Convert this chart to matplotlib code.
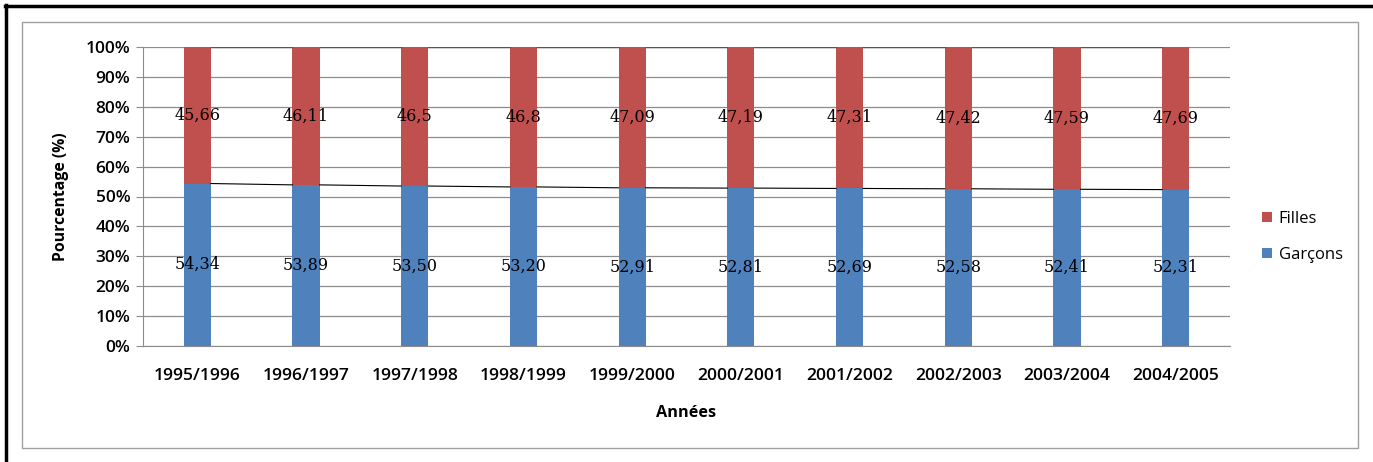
import matplotlib
matplotlib.use("Agg")
import matplotlib.pyplot as plt
from matplotlib.patches import Rectangle
from matplotlib.lines import Line2D
import numpy as np

annees = ["1995/1996", "1996/1997", "1997/1998", "1998/1999", "1999/2000",
          "2000/2001", "2001/2002", "2002/2003", "2003/2004", "2004/2005"]
garcons = [54.34, 53.89, 53.50, 53.20, 52.91, 52.81, 52.69, 52.58, 52.41, 52.31]
filles = [45.66, 46.11, 46.5, 46.8, 47.09, 47.19, 47.31, 47.42, 47.59, 47.69]
garcons_txt = ["54,34", "53,89", "53,50", "53,20", "52,91",
               "52,81", "52,69", "52,58", "52,41", "52,31"]
filles_txt = ["45,66", "46,11", "46,5", "46,8", "47,09",
              "47,19", "47,31", "47,42", "47,59", "47,69"]

BLUE = "#4F81BD"
RED = "#C0504D"
GRID = "#8C8C8C"

W, H = 1373, 462
fig = plt.figure(figsize=(W / 100, H / 100), dpi=100)

# page frame and chart area border
fig.add_artist(Line2D([6 / W, 6 / W], [0, 1 - 5 / H], transform=fig.transFigure,
                      color="black", lw=2.5))
fig.add_artist(Line2D([5 / W, 1], [1 - 6 / H, 1 - 6 / H], transform=fig.transFigure,
                      color="black", lw=2.5))
fig.add_artist(Rectangle((22 / W, 1 - 448 / H), (1358 - 22) / W, (448 - 22) / H,
                         transform=fig.transFigure, fill=False,
                         edgecolor="#A0A0A0", lw=1))

ax = fig.add_axes([143 / W, (H - 346) / H, (1230 - 143) / W, (346 - 47) / H])

x = np.arange(len(annees))
bw = 0.25
ax.bar(x, garcons, width=bw, color=BLUE, label="Garçons", zorder=3)
ax.bar(x, filles, width=bw, bottom=garcons, color=RED, label="Filles", zorder=3)

# series lines between stacked bars
tops = np.array(garcons) + np.array(filles)
for i in range(len(x) - 1):
    ax.plot([x[i] + bw / 2, x[i + 1] - bw / 2], [garcons[i], garcons[i + 1]],
            color="black", lw=0.8, zorder=4)
    ax.plot([x[i] + bw / 2, x[i + 1] - bw / 2], [tops[i], tops[i + 1]],
            color="#555555", lw=1.0, zorder=4)

lab_font = dict(family="DejaVu Serif", fontsize=11.5, color="black")
for i in range(len(x)):
    ax.text(x[i], garcons[i] / 2, garcons_txt[i], ha="center", va="center",
            zorder=5, **lab_font)
    ax.text(x[i], garcons[i] + filles[i] / 2, filles_txt[i], ha="center",
            va="center", zorder=5, **lab_font)

ax.set_xlim(-0.5, len(x) - 0.5)
ax.set_ylim(0, 100)
ax.set_yticks(np.arange(0, 101, 10))
ax.set_yticklabels([f"{v}%" for v in range(0, 101, 10)])
ax.set_xticks(x)
ax.set_xticklabels(annees)
ax.yaxis.grid(True, color=GRID, lw=0.9, zorder=0)
ax.set_axisbelow(True)

for s in ["top", "right"]:
    ax.spines[s].set_visible(False)
ax.spines["left"].set_color(GRID)
ax.spines["bottom"].set_color(GRID)
ax.tick_params(axis="y", length=5, color=GRID, labelsize=12.5, pad=4)
ax.tick_params(axis="x", length=0, labelsize=12.6, pad=16)
for t in ax.get_xticklabels() + ax.get_yticklabels():
    t.set_fontfamily("Open Sans")
    t.set_fontweight("semibold")

ax.set_xlabel("Années", fontsize=11.7, fontweight="bold", family="Open Sans",
              labelpad=15)
ax.set_ylabel("Pourcentage (%)", fontsize=11.3, fontweight="bold", family="Open Sans",
              labelpad=12)

handles, labels = ax.get_legend_handles_labels()
leg = fig.legend(handles[::-1], labels[::-1], loc="center left",
                 bbox_to_anchor=(1247 / W, 1 - 237 / H), frameon=False,
                 prop={"family": "Open Sans", "size": 12},
                 handlelength=0.6, handleheight=0.6, handletextpad=0.4,
                 labelspacing=1.2)

fig.savefig("out.png", dpi=100)
